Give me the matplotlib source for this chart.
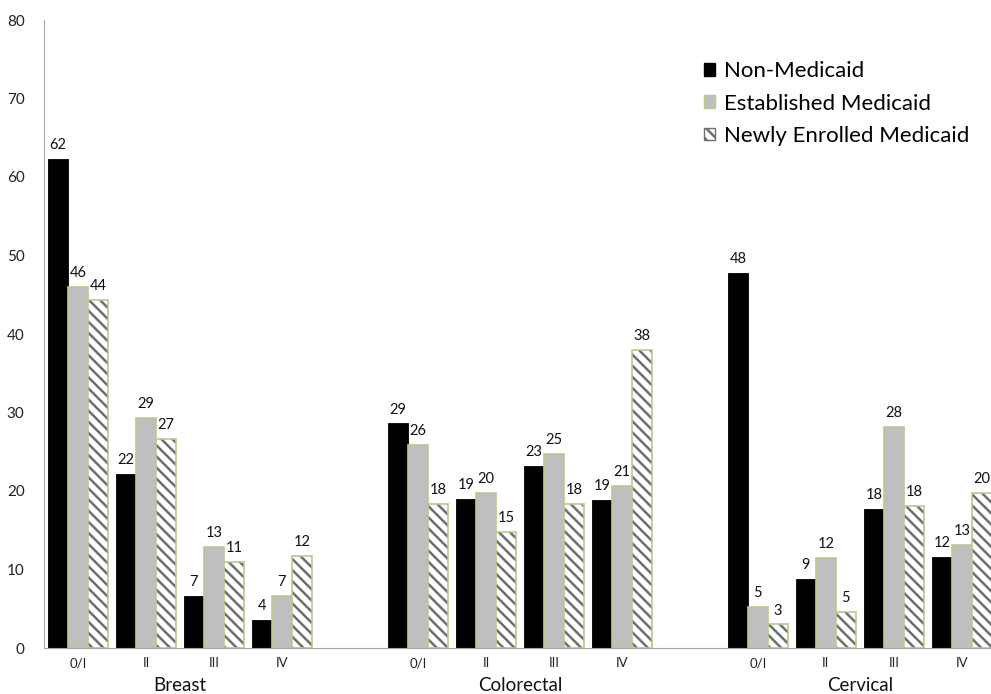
import numpy as np
import matplotlib
matplotlib.use('Agg')
import matplotlib.pyplot as plt
from matplotlib.patches import Patch

# ====================== DATA ======================
cancers = ["Breast", "Colorectal", "Cervical"]
stages = ["0/I", "II", "III", "IV"]
series = ["Non-Medicaid", "Established Medicaid", "Newly Enrolled Medicaid"]

non_medicaid = [62.3, 22.2, 6.6, 3.6,
                28.6, 19.0, 23.2, 18.9,
                47.8, 8.8, 17.7, 11.6]
established = [46.0, 29.3, 12.9, 6.6,
               25.9, 19.7, 24.7, 20.6,
               5.2, 11.5, 28.2, 13.1]
newly_enrolled = [44.3, 26.6, 11.0, 11.7,
                  18.3, 14.8, 18.3, 38.0,
                  3.0, 4.6, 18.1, 19.7]
# ===================================================

plt.rcParams['font.family'] = ['Lato', 'DejaVu Sans']
plt.rcParams['hatch.linewidth'] = 1.8

GREEN_EDGE = '#b5cc8e'
GRAY_FILL = '#bfbfbf'
HATCH_COL = '#6f6f6f'
AXIS_COL = '#a6a6a6'

# one blank slot between cancer groups
x = []
for g in range(len(cancers)):
    for s in range(len(stages)):
        x.append(g * (len(stages) + 1) + s)
x = np.array(x, dtype=float)
bw = 0.294

fig = plt.figure(figsize=(9.91, 6.94), dpi=100)
ax = fig.add_axes([44 / 991, 46 / 694, 947 / 991, 628 / 694])

ax.bar(x - bw, non_medicaid, bw, color='black', edgecolor='black', linewidth=0.6)
ax.bar(x, established, bw, color=GRAY_FILL, edgecolor=GREEN_EDGE, linewidth=1.2)
# hatched bars: hatch drawn in gray, then the green outline on top
ax.bar(x + bw, newly_enrolled, bw, color='white', edgecolor=HATCH_COL,
       hatch='\\\\\\', linewidth=0)
ax.bar(x + bw, newly_enrolled, bw, color='none', edgecolor=GREEN_EDGE, linewidth=1.2)

for offs, vals in [(-bw, non_medicaid), (0, established), (bw, newly_enrolled)]:
    for xi, v in zip(x, vals):
        ax.annotate(f"{v:.0f}", (xi + offs, v), xytext=(0, 5),
                    textcoords='offset points', ha='center', va='bottom',
                    fontsize=10.5, color='#111111')

ax.set_ylim(0, 80)
ax.set_xlim(-0.5, 13.43)
ax.set_yticks(np.arange(0, 81, 10))
ax.tick_params(axis='y', length=0, pad=14, labelsize=11, colors='#222222')
ax.set_xticks([])
for sp in ['top', 'right']:
    ax.spines[sp].set_visible(False)
ax.spines['left'].set_color(AXIS_COL)
ax.spines['bottom'].set_color(AXIS_COL)

# two-level category labels
trans = ax.get_xaxis_transform()
for xi, st in zip(x, stages * len(cancers)):
    ax.text(xi, -0.024, st, transform=trans, ha='center', va='center',
            fontsize=9.5, color='#222222')
for g, name in enumerate(cancers):
    xc = g * (len(stages) + 1) + 1.5
    ax.text(xc, -0.06, name, transform=trans, ha='center', va='center',
            fontsize=13.5, color='#111111')

handles = [Patch(facecolor='black', edgecolor='black'),
           Patch(facecolor=GRAY_FILL, edgecolor=GREEN_EDGE),
           Patch(facecolor='white', edgecolor=HATCH_COL, hatch='\\\\\\')]
fig.legend(handles, series, loc='upper left', bbox_to_anchor=(0.710, 0.912),
           frameon=False, fontsize=16, handlelength=0.5, handleheight=0.5,
           handletextpad=0.4, labelspacing=0.56, borderpad=0, borderaxespad=0)

plt.savefig('out.png', dpi=100)
plt.close()
